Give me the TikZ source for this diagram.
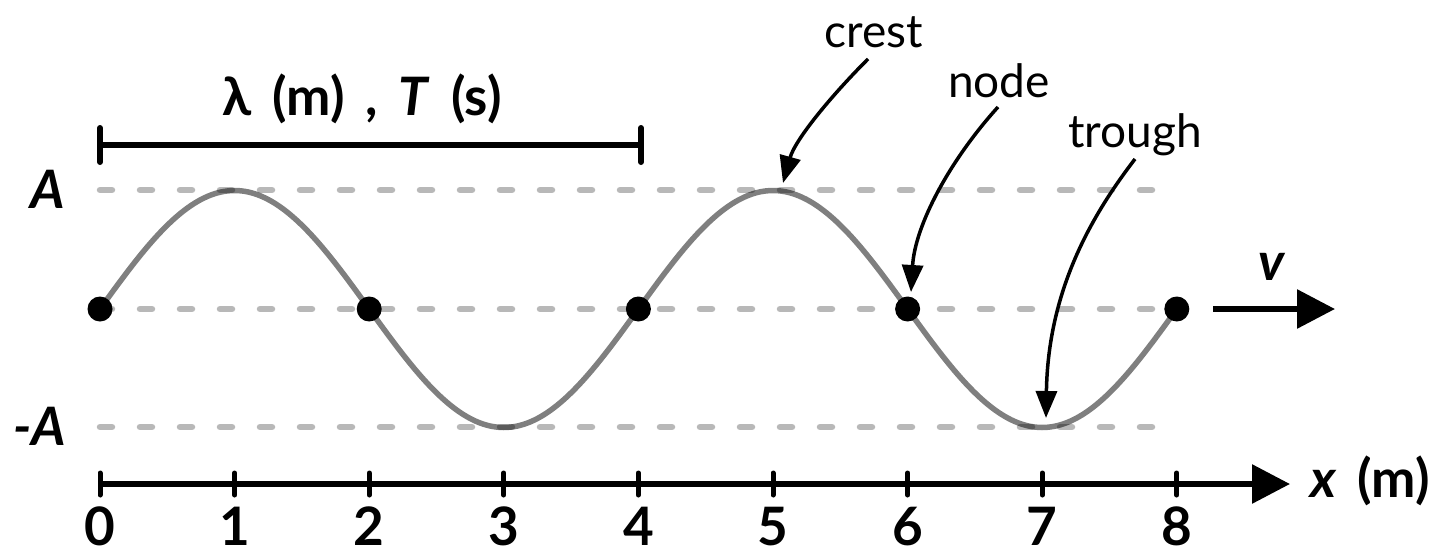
\documentclass[tikz,border=0pt]{standalone}
\usepackage{fontspec}
\setmainfont{Lato}
\usetikzlibrary{arrows.meta}
\definecolor{dashgray}{HTML}{B8B8B8}
\begin{document}
\begin{tikzpicture}[x=1pt,y=-1pt,
  dashline/.style={line width=6.5pt, color=dashgray, dash pattern=on 12pt off 28pt, line cap=round},
  wave/.style={line width=5.5pt, draw=black, draw opacity=0.5},
  dot/.style={circle, fill=black, inner sep=0pt, minimum size=25pt},
  axisline/.style={line width=6pt, -{Triangle[length=38pt,width=38pt]}},
  tickmark/.style={line width=5pt, line cap=round},
  annot/.style={line width=3.5pt, -{Triangle[length=27pt,width=21pt]}},
  lbl/.style={font=\fontsize{53}{62}\selectfont\bfseries, inner sep=0pt},
  alabel/.style={font=\fontsize{46}{54}\selectfont, inner sep=0pt}]
\useasboundingbox (0,0) rectangle (1438,552);
% dashed reference lines
\coordinate (dA0) at (100,190); \coordinate (dA1) at (1157,190);
\coordinate (d00) at (100,309); \coordinate (d01) at (1157,309);
\coordinate (dM0) at (100,427); \coordinate (dM1) at (1157,427);
\draw[dashline] (dA0) -- (dA1);
\draw[dashline] (d00) -- (d01);
\draw[dashline] (dM0) -- (dM1);
% wave
\draw[wave] plot[domain=0:8, samples=161, smooth] ({100+134.6*\x},{309-118.5*sin(90*\x)});
% nodes on the wave
\foreach \i in {0,2,4,6,8} {
  \node[dot] (n\i) at ({100+134.6*\i},309) {};
}
\coordinate (crest) at (783,183);
\coordinate (trough) at (1046,418);
% amplitude labels
\node[lbl, anchor=base] (lA) at (48,208) {\itshape A};
\node[lbl, anchor=base] (lmA) at (40,445) {\itshape -A};
% wavelength bracket
\coordinate (b0) at (100,145); \coordinate (b1) at (641,145);
\draw[line width=6pt] (b0) -- (b1);
\draw[tickmark, line width=6pt] ([yshift=-17pt]b0) -- ([yshift=17pt]b0);
\draw[tickmark, line width=6pt] ([yshift=-17pt]b1) -- ([yshift=17pt]b1);
\node[lbl, anchor=base] (lam) at (362,115) {λ\hspace{8pt} (m)\hspace{8pt} ,\hspace{8pt} \textit{T}\hspace{8pt} (s)};
% x axis
\coordinate (ax0) at (100,484); \coordinate (ax1) at (1290,484);
\draw[axisline] (ax0) -- (ax1);
\foreach \i in {0,...,8} {
  \coordinate (t\i) at ({100+134.6*\i},484);
  \draw[tickmark] ([yshift=-11pt]t\i) -- ([yshift=11pt]t\i);
  \node[lbl, anchor=base] (tl\i) at ({100+134.6*\i},545) {\i};
}
\node[lbl, anchor=base] (xlab) at (1370,497) {\textit{x}\hspace{8pt} (m)};
% velocity arrow
\coordinate (v0) at (1213,309); \coordinate (v1) at (1335,309);
\draw[axisline] (v0) -- (v1);
\node[lbl, anchor=base] (vlab) at (1272,280) {\textit{v}};
% annotations
\node[alabel, anchor=base] (crestlbl) at (874,47) {crest};
\node[alabel, anchor=base] (nodelbl) at (999,97) {node};
\node[alabel, anchor=base] (troughlbl) at (1135,147) {trough};
\coordinate (cs) at (868,59);
\coordinate (ns) at (998,107);
\coordinate (ts) at (1135,159);
\coordinate (ntip) at (911,292);
\draw[annot] (cs) .. controls (830,97) and (795,140) .. (crest);
\draw[annot] (ns) .. controls (950,160) and (915,225) .. (ntip);
\draw[annot] (ts) .. controls (1092,215) and (1048,290) .. (trough);
\end{tikzpicture}
\end{document}
